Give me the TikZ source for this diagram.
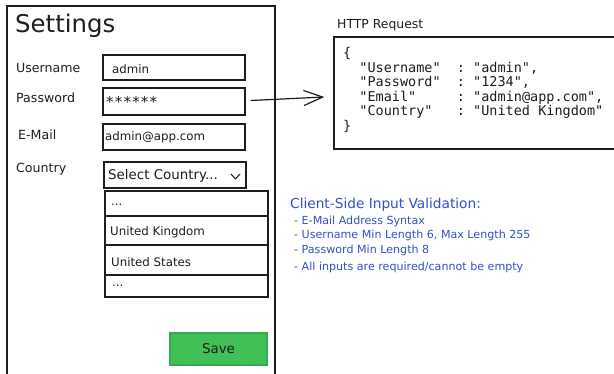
\documentclass[tikz,border=0pt]{standalone}
\usepackage{fontspec}
\setmainfont{DejaVu Sans}
\newfontfamily\monofont{DejaVu Sans Mono}
\usetikzlibrary{arrows.meta}
\definecolor{ink}{RGB}{30,30,30}
\definecolor{vblue}{RGB}{54,79,199}
\definecolor{savefill}{RGB}{64,192,87}
\definecolor{savedraw}{RGB}{55,170,75}
\tikzset{
  box/.style={draw=ink, line width=1.3pt, inner sep=0pt, rectangle},
  field/.style={box, minimum width=142pt},
  listrow/.style={box, minimum width=163pt},
  lbl/.style={anchor=base west, inner sep=0pt, text=ink, font=\fontsize{12.6}{14}\selectfont},
  ftxt/.style={anchor=base west, inner sep=0pt, text=ink, font=\fontsize{11.8}{14}\selectfont},
  vtxt/.style={anchor=base west, inner sep=0pt, text=vblue, font=\fontsize{11.1}{13}\selectfont},
  jtxt/.style={anchor=base west, inner sep=0pt, text=ink, font=\monofont\fontsize{13.5}{14}\selectfont},
  conn/.style={draw=ink, line width=1.2pt, -{Straight Barb[length=19pt,width=15pt,line width=1.2pt]}}
}
\begin{document}
\begin{tikzpicture}[x=1pt,y=-1pt]
\clip (0,0) rectangle (614,374);
\fill[white] (0,0) rectangle (614,374);

% main frame
\node[box, minimum width=268pt, minimum height=390pt] (frame) at (141,201) {};
\node[anchor=base west, inner sep=0pt, text=ink, font=\fontsize{24.4}{28}\selectfont] (title) at (15,33) {Settings};

% labels
\node[lbl] (lun) at (16,73) {Username};
\node[lbl] (lpw) at (16,103) {Password};
\node[lbl] (lem) at (18,140) {E-Mail};
\node[lbl] (lco) at (16,173) {Country};

% fields
\node[field, minimum height=25pt] (un) at (174,67.5) {};
\node[field, minimum height=27pt] (pw) at (174,101.5) {};
\node[field, minimum height=26pt] (em) at (174,137) {};
\node[field, minimum height=26pt] (co) at (175,175) {};

\node[ftxt] (unt) at (112,74) {admin};
\node[ftxt] (pwt) at (106,108) {\fontsize{15}{16}\selectfont *\kern1.2pt*\kern1.2pt*\kern1.2pt*\kern1.2pt*\kern1.2pt*};
\node[ftxt] (emt) at (105,141) {admin@app.com};
\node[ftxt, font=\fontsize{13.4}{15}\selectfont] (cot) at (108,179.5) {Select Country...};
\draw[ink, line width=1.1pt, line join=round] (231,174) -- (235.5,179) -- (240,174);

% dropdown list
\node[listrow, minimum height=25pt] (r1) at (186.5,203.5) {};
\node[listrow, minimum height=29pt] (r2) at (186.5,230.5) {};
\node[listrow, minimum height=30pt] (r3) at (186.5,260) {};
\node[listrow, minimum height=22pt] (r4) at (186.5,286) {};
\node[ftxt] (r1t) at (111,206) {...};
\node[ftxt] (r2t) at (110,236) {United Kingdom};
\node[ftxt] (r3t) at (111,267) {United States};
\node[ftxt] (r4t) at (112,287) {...};

% save button
\node[draw=savedraw, fill=savefill, line width=1.2pt, minimum width=97pt, minimum height=32pt, inner sep=0pt,
      text=ink, font=\fontsize{13.4}{15}\selectfont] (save) at (218.5,349) {Save};

% HTTP request
\node[anchor=base west, inner sep=0pt, text=ink, font=\fontsize{12.4}{14}\selectfont] (httpl) at (337,29) {HTTP Request};
\node[box, minimum width=300pt, minimum height=112pt] (http) at (484,93) {};
\node[jtxt] (j0) at (343,58) {\{};
\node[jtxt] (j1) at (343,72.5) {~~"Username"~~:~"admin",};
\node[jtxt] (j2) at (343,87) {~~"Password"~~:~"1234",};
\node[jtxt] (j3) at (343,101.5) {~~"Email"~~~~~:~"admin@app.com",};
\node[jtxt] (j4) at (343,116) {~~"Country"~~~:~"United Kingdom"};
\node[jtxt] (j5) at (343,130.5) {\}};

\draw[conn] ([xshift=5pt,yshift=1pt]pw.east) -- ([xshift=-9pt,yshift=-4pt]http.west);

% validation notes
\node[vtxt, font=\fontsize{13.7}{15}\selectfont] (vh) at (290,209) {Client-Side Input Validation:};
\node[vtxt] (v1) at (294,225) {- E-Mail Address Syntax};
\node[vtxt] (v2) at (294,239) {- Username Min Length 6, Max Length 255};
\node[vtxt] (v3) at (294,254) {- Password Min Length 8};
\node[vtxt] (v4) at (294,271) {- All inputs are required/cannot be empty};
\end{tikzpicture}
\end{document}
